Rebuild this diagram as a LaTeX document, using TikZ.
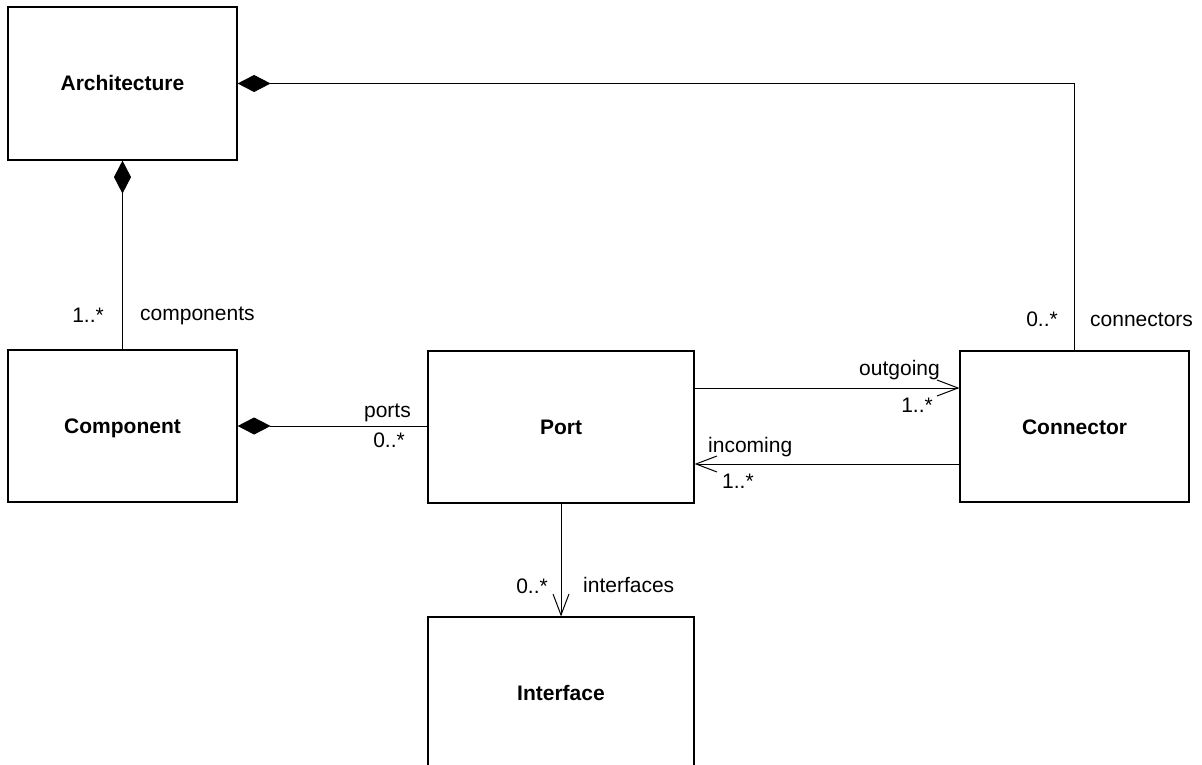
\documentclass[tikz,border=0pt]{standalone}
\usepackage{fontspec}
\setmainfont{Liberation Sans}
\usetikzlibrary{arrows.meta}
\begin{document}
\begin{tikzpicture}[x=1pt,y=-1pt,
  every node/.style={font=\fontsize{21}{25}\selectfont},
  classbox/.style={draw=black, line width=1.2pt, inner sep=0pt,
    font=\fontsize{21}{25}\selectfont\bfseries, text height=15pt, text depth=0pt},
  assoc/.style={draw=black, line width=1pt},
  compose/.style={assoc, {Diamond[length=33pt,width=17pt]}-},
  navig/.style={assoc, -{Straight Barb[length=21pt,width=16pt]}},
  lbl/.style={inner sep=0pt}]
\useasboundingbox (0,0) rectangle (1202,765);
\clip (0,0) rectangle (1202,765);
\fill[white] (0,0) rectangle (1202,765);

% classes
\node[classbox, minimum width=229pt, minimum height=153pt] (arch)  at (122.5,83.5) {Architecture};
\node[classbox, minimum width=229pt, minimum height=152pt] (comp)  at (122.5,426)  {Component};
\node[classbox, minimum width=266pt, minimum height=152pt] (port)  at (561,427)    {Port};
\node[classbox, minimum width=229pt, minimum height=151pt] (conn)  at (1074.5,426.5) {Connector};
\node[classbox, minimum width=266pt, minimum height=152pt] (iface) at (561,693)    {Interface};

% compositions
\draw[compose] (arch.east) -| (conn.north);
\draw[compose] (arch.south) -- (comp.north);
\draw[compose] (comp.east) -- (comp.east -| port.west);

% navigable associations
\path ([yshift=39pt]port.east) coordinate (outA);
\draw[navig] (outA) -- (outA -| conn.west);
\path ([yshift=-37.5pt]conn.west) coordinate (inA);
\draw[navig] (inA) -- (inA -| port.east);
\draw[navig] (port.south) -- (port.south |- iface.north);

% role names and multiplicities
\node[lbl, anchor=base east] (m1) at (104,322) {1..*};
\node[lbl, anchor=base west] (r1) at (140,320) {components};
\node[lbl, anchor=base east] (m2) at (1058,326) {0..*};
\node[lbl, anchor=base west] (r2) at (1090,326) {connectors};
\node[lbl, anchor=base east] (r3) at (411,417) {ports};
\node[lbl, anchor=base east] (m3) at (405,447) {0..*};
\node[lbl, anchor=base east] (r4) at (940,375) {outgoing};
\node[lbl, anchor=base east] (m4) at (933,412) {1..*};
\node[lbl, anchor=base west] (r5) at (708,452) {incoming};
\node[lbl, anchor=base west] (m5) at (722,488) {1..*};
\node[lbl, anchor=base east] (m6) at (548,593) {0..*};
\node[lbl, anchor=base west] (r6) at (583,592) {interfaces};
\end{tikzpicture}
\end{document}
